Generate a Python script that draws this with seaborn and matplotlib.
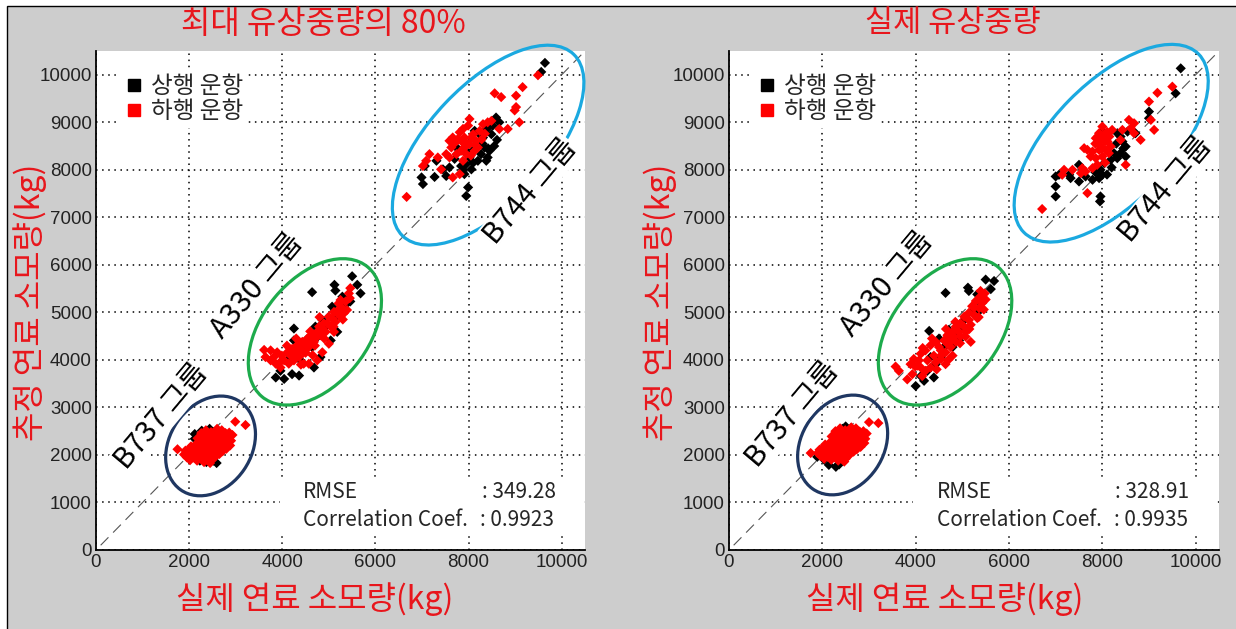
import seaborn as sns
import matplotlib.pyplot as plt
import pandas as pd
from matplotlib import font_manager
from matplotlib.patches import Ellipse, Rectangle
from matplotlib.lines import Line2D

# ---- data (actual fuel, estimated fuel) in kg ----
# left panel: 최대 유상중량의 80%
left_up_b744 = [(9640, 10250), (9560, 10060), (8590, 9100), (8520, 8930), (8390, 8860), (8610, 8630),
                (8450, 8400), (8340, 8470), (8240, 8750), (8160, 8540), (8090, 8400), (8020, 8260),
                (7950, 8120), (8060, 8010), (8200, 8190), (8270, 8330), (8410, 8260), (7810, 8400),
                (7700, 8230), (7590, 8050), (7450, 8010), (7310, 8190), (7060, 8080), (6990, 7840),
                (7020, 7700), (7270, 7850), (7520, 7870), (7840, 8080), (7910, 7910), (7990, 7630),
                (7950, 7450), (8380, 8190), (8490, 8750), (8310, 8680), (7740, 8470), (8130, 8820),
                (8660, 9000), (8300, 8550), (8000, 8350), (8550, 8500), (7880, 8000), (8420, 8450),
                (8100, 8150)]
left_down_b744 = [(9490, 9990), (9160, 9740), (9020, 9560), (8560, 9610), (8700, 9530), (9020, 9320),
                  (8990, 9250), (9090, 9000), (8840, 8860), (8660, 8860), (8490, 9030), (8410, 9000),
                  (8310, 8960), (8020, 9070), (7990, 8930), (7880, 8860), (7810, 8790), (7660, 8680),
                  (7590, 8610), (7770, 8650), (7910, 8680), (8060, 8680), (8160, 8610), (8020, 8540),
                  (7910, 8470), (7840, 8400), (7740, 8330), (7590, 8260), (7520, 8330), (7340, 8260),
                  (7160, 8330), (7090, 8190), (7020, 8080), (7410, 8010), (7660, 7840), (7810, 7910),
                  (7950, 8330), (7880, 8190), (8130, 8400), (8200, 8470), (7630, 8470), (6670, 7430),
                  (8240, 8820), (7960, 8560), (8100, 8750), (8280, 8640), (7700, 8560), (8350, 8760),
                  (8050, 8300), (7850, 8600), (8150, 8520)]
left_up_a330 = [(5500, 5760), (5120, 5580), (5140, 5460), (4640, 5425), (5610, 5580), (5680, 5400),
                (5290, 5330), (5460, 5230), (5070, 5120), (5180, 4940), (4860, 4840), (4710, 4700),
                (4250, 4660), (4250, 4410), (4460, 4340), (5040, 4410), (5180, 4590), (4820, 4060),
                (4680, 3840), (4360, 3670), (4210, 3700), (3860, 3630), (4040, 3600), (4390, 3990),
                (4640, 4270), (4960, 4730), (5360, 5160), (4110, 3990), (3960, 3770), (4750, 4480)]
left_down_a330 = [(3610, 4210), (3640, 4060), (3750, 3990), (3860, 3920), (3960, 3840), (3820, 4060),
                  (3990, 4090), (4110, 4160), (4210, 4230), (4320, 4310), (4430, 4380), (4540, 4450),
                  (4640, 4520), (4750, 4590), (4860, 4660), (4960, 4770), (5070, 4870), (5180, 4980),
                  (5290, 5090), (5360, 5230), (5430, 5400), (5460, 5510), (5210, 5190), (5110, 5010),
                  (5000, 4910), (4890, 4770), (4790, 4700), (4680, 4380), (4570, 4270), (4460, 4160),
                  (4360, 4060), (4250, 3990), (4140, 3920), (4040, 3990), (4180, 4090), (4290, 4160),
                  (4390, 4230), (4500, 4310), (4610, 4380), (4710, 4450), (4820, 4520), (4930, 4590),
                  (5040, 4700), (5140, 4800), (5250, 4910), (5320, 4980), (5110, 4590), (5000, 4340),
                  (4860, 4160), (4750, 3990), (4570, 3920), (4460, 3920), (3890, 4160), (3750, 4200),
                  (5390, 5050), (5250, 5260), (4300, 4450), (4500, 4150), (4700, 4300), (4900, 4450),
                  (5100, 4700), (5300, 4850), (4600, 4600), (4400, 3900), (4650, 4100), (5200, 5050),
                  (5450, 5300), (4800, 4900), (3950, 3950), (4100, 4300)]
left_up_b737 = [(2120, 2440), (2270, 2510), (2440, 2550), (2520, 2480), (2120, 2340), (2190, 2230),
                (2050, 2060), (2230, 1880), (2370, 1850), (2520, 1880), (2590, 1830), (2010, 1920)]
left_down_b737 = [(1750, 2120), (2990, 2700), (3210, 2630), (1890, 2010), (1950, 1950), (1980, 2080),
                  (2020, 1890), (2060, 2010), (2080, 2140), (2110, 1940), (2140, 2070), (2150, 2230),
                  (2170, 1880), (2200, 2000), (2210, 2150), (2230, 2300), (2250, 1920), (2270, 2080),
                  (2290, 2220), (2300, 2380), (2320, 1850), (2340, 2000), (2350, 2150), (2370, 2290),
                  (2390, 2430), (2400, 1930), (2420, 2070), (2440, 2200), (2450, 2340), (2470, 2480),
                  (2480, 1890), (2500, 2010), (2510, 2140), (2530, 2270), (2550, 2400), (2560, 1960),
                  (2580, 2090), (2600, 2210), (2610, 2340), (2630, 2470), (2650, 2020), (2670, 2150),
                  (2690, 2280), (2700, 2400), (2720, 2080), (2740, 2200), (2760, 2330), (2780, 2460),
                  (2800, 2130), (2820, 2260), (2850, 2370), (2880, 2200), (2900, 2300), (2930, 2420),
                  (1920, 2090), (2040, 2180), (2180, 2350), (2260, 2460), (2360, 2520), (2600, 2550),
                  (2450, 1830), (2700, 2520), (2860, 2470), (2000, 1990), (2120, 1980), (2240, 2100),
                  (2380, 2100), (2520, 2330), (2660, 2360)]

# right panel: 실제 유상중량
right_up_b744 = [(9680, 10135), (9570, 9610), (9000, 9225), (9000, 9085), (8710, 8770), (8540, 8805),
                 (8390, 8700), (8320, 8770), (8000, 8805), (8430, 8595), (8500, 8490), (8390, 8350),
                 (8500, 8280), (8320, 8245), (8040, 8140), (7960, 8000), (8000, 7895), (7930, 7825),
                 (7790, 7790), (7640, 7860), (7500, 7755), (7320, 7825), (7290, 7895), (7070, 7895),
                 (7000, 7860), (7500, 8105), (7000, 7650), (7000, 7440), (7960, 7440), (7950, 7335),
                 (8180, 8210), (8250, 8350), (8100, 7900), (8200, 8050), (8450, 8450), (7850, 7950),
                 (8300, 8550)]
right_down_b744 = [(9500, 9750), (9180, 9620), (9000, 9435), (9040, 9050), (9110, 8840), (8820, 8630),
                   (8680, 8770), (8680, 8980), (8570, 9050), (8610, 8875), (8430, 8840), (8210, 8840),
                   (8040, 8735), (7930, 8770), (7860, 8665), (7960, 8630), (8110, 8595), (8180, 8490),
                   (8070, 8420), (7930, 8420), (7790, 8385), (7680, 8420), (7610, 8455), (7750, 8280),
                   (7860, 8245), (8000, 8280), (7890, 8105), (7790, 8035), (8140, 8350), (7930, 8525),
                   (7570, 8035), (7540, 7930), (7640, 7965), (7360, 8000), (7180, 8000), (7140, 7895),
                   (7680, 7510), (8500, 8105), (6710, 7175), (8390, 8630), (8000, 8910), (8050, 8600),
                   (7900, 8700), (8100, 8800), (8000, 8450), (7850, 8550), (8150, 8700), (8060, 8150)]
right_up_a330 = [(5680, 5660), (5500, 5690), (5610, 5490), (5120, 5520), (5140, 5450), (4640, 5410),
                 (5320, 5380), (5390, 5200), (5250, 5060), (5320, 4990), (5040, 4840), (4290, 4610),
                 (4710, 4630), (4890, 4560), (4500, 4450), (4610, 4270), (4790, 4270), (4540, 4060),
                 (4430, 3910), (4250, 3770), (4110, 3660), (4000, 3450), (4180, 3560), (4390, 3630),
                 (4320, 4060), (5000, 4700), (4930, 4410)]
right_down_a330 = [(3570, 3860), (3640, 3770), (3820, 3590), (3930, 3700), (3890, 3910), (3960, 4020),
                   (4070, 3990), (4110, 4130), (4210, 4200), (4320, 4310), (4430, 4380), (4500, 4270),
                   (4610, 4410), (4680, 4520), (4790, 4590), (4860, 4700), (4960, 4770), (5040, 4910),
                   (5140, 4990), (5210, 5130), (5290, 5240), (5390, 5340), (5430, 5200), (5460, 5060),
                   (5320, 4880), (5180, 4740), (5070, 4590), (4960, 4490), (4860, 4380), (4750, 4270),
                   (4640, 4160), (4540, 4020), (4430, 3950), (4320, 3840), (4210, 3770), (4110, 3840),
                   (4250, 3990), (4390, 4090), (4540, 4200), (4680, 4340), (4820, 4490), (4930, 4590),
                   (5040, 4700), (5140, 4840), (5250, 4950), (5360, 5090), (5070, 4490), (5180, 4380),
                   (4790, 4090), (4640, 3910), (4040, 3880), (5390, 5450), (5500, 5270), (4140, 3660),
                   (4350, 4450), (4550, 4100), (4750, 4400), (4950, 4350), (5150, 4650), (5350, 4900),
                   (4650, 4650), (4450, 3800), (4700, 4000), (5250, 5100), (5480, 5400), (4850, 4800),
                   (3990, 3860), (4150, 4250)]
right_up_b737 = [(2500, 2600), (2570, 2530), (2430, 2550), (2140, 1790), (2290, 1750), (2360, 1800),
                 (2040, 1900), (2680, 2390), (1890, 1960), (2610, 2560)]
right_down_b737 = [(1750, 2040), (3000, 2690), (3200, 2670), (1900, 2040), (1960, 1980), (1990, 2130),
                   (2040, 1920), (2070, 2060), (2100, 2190), (2120, 1960), (2160, 2110), (2170, 2270),
                   (2190, 1900), (2220, 2040), (2230, 2190), (2250, 2350), (2270, 1950), (2290, 2120),
                   (2310, 2260), (2320, 2420), (2340, 1880), (2360, 2030), (2370, 2180), (2390, 2330),
                   (2410, 2470), (2420, 1960), (2440, 2100), (2460, 2240), (2470, 2380), (2490, 2520),
                   (2500, 1920), (2520, 2050), (2530, 2180), (2550, 2310), (2570, 2440), (2580, 2000),
                   (2600, 2130), (2620, 2250), (2630, 2380), (2650, 2500), (2670, 2070), (2690, 2190),
                   (2710, 2320), (2720, 2440), (2740, 2120), (2760, 2240), (2780, 2370), (2800, 2490),
                   (2820, 2170), (2840, 2300), (2870, 2410), (2900, 2250), (2920, 2340), (2950, 2450),
                   (1940, 2110), (2060, 2220), (2200, 2390), (2280, 2500), (2380, 2560), (2620, 2580),
                   (2470, 1860), (2720, 2560), (2880, 2500), (2020, 2030), (2140, 2020), (2260, 2140),
                   (2400, 2140), (2540, 2370), (2680, 2400)]

panel_titles = ["최대 유상중량의 80%", "실제 유상중량"]
rmse_values = ["349.28", "328.91"]
corr_values = ["0.9923", "0.9935"]
directions = ["상행 운항", "하행 운항"]
group_names = ["B737 그룹", "A330 그룹", "B744 그룹"]

# ellipses: (center x, center y, width, height, angle) in data units
left_ellipses = [(2460, 2190, 2250, 1750, 55), (4700, 4590, 3550, 2250, 50), (8420, 8520, 5300, 2550, 46)]
right_ellipses = [(2435, 2210, 2250, 1750, 55), (4630, 4590, 3550, 2250, 50), (8190, 8560, 5300, 2550, 45)]
ellipse_colors = ["#1f3762", "#1dab4c", "#1ba9e0"]
left_label_pos = [(1400, 2800), (3460, 5560), (9330, 7540)]
right_label_pos = [(1350, 2840), (3390, 5600), (9360, 7580)]


def make_df(up, down):
    rows = [(x, y, directions[0]) for x, y in up] + [(x, y, directions[1]) for x, y in down]
    return pd.DataFrame(rows, columns=["actual", "estimate", "direction"])


left_df = pd.concat([make_df(left_up_b737, left_down_b737), make_df(left_up_a330, left_down_a330),
                     make_df(left_up_b744, left_down_b744)])
right_df = pd.concat([make_df(right_up_b737, right_down_b737), make_df(right_up_a330, right_down_a330),
                      make_df(right_up_b744, right_down_b744)])
# black drawn first, red on top
left_df = left_df.sort_values("direction", kind="stable")
right_df = right_df.sort_values("direction", kind="stable")

sns.set_style("white")
kr = ["Noto Sans CJK KR", "DejaVu Sans"]
installed = {f.name for f in font_manager.fontManager.ttflist}
tick_family = "Liberation Sans Narrow" if "Liberation Sans Narrow" in installed else "Liberation Sans"
plt.rcParams["font.family"] = kr

fig = plt.figure(figsize=(12.36, 6.29), dpi=100)
fig.patches.append(Rectangle((7 / 1236, -0.02), 1.1, 1 - 6 / 629 + 0.02, transform=fig.transFigure,
                             facecolor="#cdcdcd", edgecolor="black", linewidth=1.0, zorder=-10))

axes_rects = [[96 / 1236, 79 / 629, 489 / 1236, 499 / 629], [729 / 1236, 79 / 629, 490 / 1236, 499 / 629]]
panels = [(left_df, left_ellipses, left_label_pos), (right_df, right_ellipses, right_label_pos)]
title_x = [323, 953]
xlabel_x = [315, 945]
ylabel_x = [30, 660]
title_size = [23, 22]
text_red = "#e8161c"

for i, (df, ells, lpos) in enumerate(panels):
    ax = fig.add_axes(axes_rects[i])
    ax.set_facecolor("white")
    ax.set_axisbelow(True)
    sns.scatterplot(data=df, x="actual", y="estimate", hue="direction", hue_order=directions,
                    palette={directions[0]: "black", directions[1]: "#ff0000"},
                    marker="D", s=27, linewidth=0, ax=ax, legend=False, zorder=3)
    ax.plot([100, 10500], [100, 10500], linestyle=(0, (10, 6)), color="#555555", linewidth=0.8, zorder=2)
    ax.set_xlim(0, 10500)
    ax.set_ylim(0, 10500)
    ax.set_xticks(range(0, 10001, 2000))
    ax.set_yticks(range(0, 10001, 1000))
    ax.set_xlabel("")
    ax.set_ylabel("")
    ax.grid(True, linestyle=(0, (1, 3)), color="black", linewidth=1.1)
    ax.tick_params(direction="in", length=4, width=1, labelsize=13.5, pad=3,
                   labelfontfamily=tick_family, labelcolor="#222222")
    for side in ["top", "right"]:
        ax.spines[side].set_visible(False)
    for side in ["left", "bottom"]:
        ax.spines[side].set_color("black")
        ax.spines[side].set_linewidth(1.3)

    for (cx, cy, w, h, ang), col in zip(ells, ellipse_colors):
        ax.add_patch(Ellipse((cx, cy), w, h, angle=ang, fill=False, edgecolor=col,
                             linewidth=2.3, zorder=4, clip_on=False))
    for (tx, ty), name in zip(lpos, group_names):
        ax.text(tx, ty, name, rotation=50, rotation_mode="anchor", ha="center", va="center",
                fontsize=21, color="black", zorder=5,
                bbox=dict(facecolor="white", edgecolor="none", pad=0.3))

    # statistics box
    ax.add_patch(Rectangle((3950, 320), 6500, 1200, facecolor="white", edgecolor="none", zorder=1))
    ax.text(4450, 1230, "RMSE", fontsize=15, va="center", ha="left", zorder=5)
    ax.text(4450, 640, "Correlation Coef.", fontsize=15, va="center", ha="left", zorder=5)
    ax.text(9870, 1230, ": " + rmse_values[i], fontsize=15, va="center", ha="right", zorder=5)
    ax.text(9830, 640, ": " + corr_values[i], fontsize=15, va="center", ha="right", zorder=5)

    handles = [Line2D([], [], marker="s", linestyle="none", color=c, markersize=8)
               for c in ["black", "#ff0000"]]
    leg = ax.legend(handles, directions, loc="upper left", bbox_to_anchor=(0.02, 0.985),
                    fontsize=17, frameon=True, handletextpad=0.2, labelspacing=0.1,
                    borderpad=0.2, handlelength=1.0)
    leg.get_frame().set_facecolor("white")
    leg.get_frame().set_edgecolor("none")
    leg.get_frame().set_alpha(1)
    leg.set_zorder(6)

    fig.text(title_x[i] / 1236, 1 - 24 / 629, panel_titles[i], color=text_red, fontsize=title_size[i],
             ha="center", va="center")
    fig.text(xlabel_x[i] / 1236, 1 - 599 / 629, "실제 연료 소모량(kg)", color=text_red, fontsize=23,
             ha="center", va="center")
    fig.text(ylabel_x[i] / 1236, 1 - 302 / 629, "추정 연료 소모량(kg)", color=text_red, fontsize=23,
             ha="center", va="center", rotation=90)

fig.savefig("out.png", dpi=100, facecolor="white")
plt.close(fig)
